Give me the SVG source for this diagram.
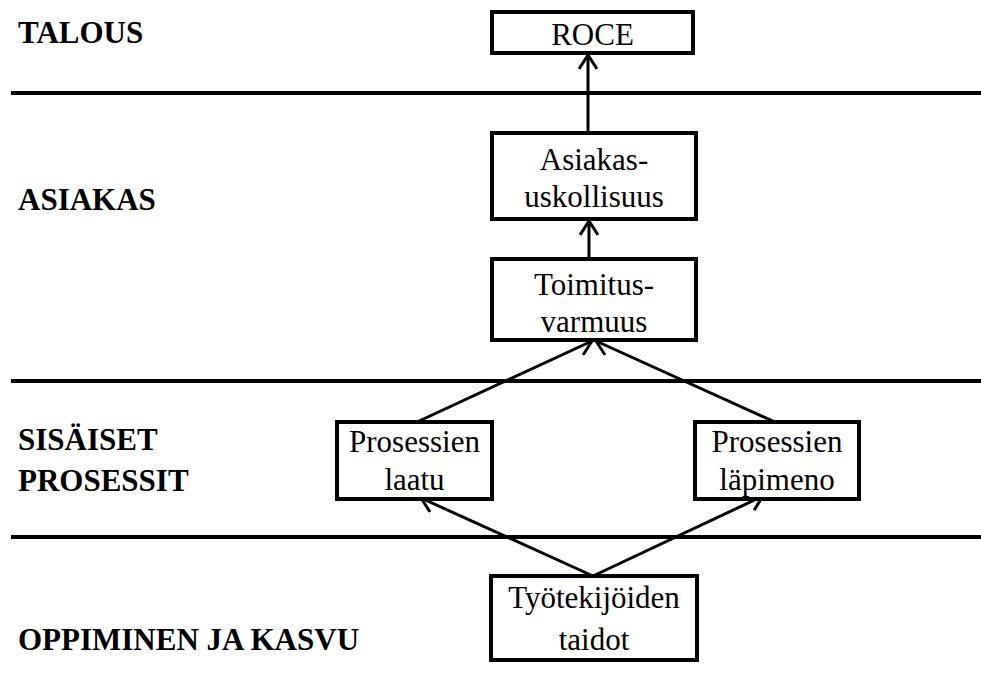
<svg xmlns="http://www.w3.org/2000/svg" width="981" height="698" viewBox="0 0 981 698">
  <style>
    .band { font-weight: bold; font-size: 31px; fill: #000; }
    .box rect { fill: #fff; stroke: #000; stroke-width: 4; }
    .box text { font-size: 31px; fill: #000; text-anchor: middle; }
    .divider { stroke: #000; stroke-width: 4; }
    .edge { stroke: #000; stroke-width: 3; fill: none; marker-end: url(#head); }
  </style>
  <defs>
    <marker id="head" viewBox="0 0 16 20" refX="15" refY="10" markerWidth="16" markerHeight="20" markerUnits="userSpaceOnUse" orient="auto">
      <path d="M1,1 L15,10 L1,19" fill="none" stroke="#000" stroke-width="3"/>
    </marker>
  </defs>

  <rect width="981" height="698" fill="#fff"/>

  <g font-family="'Liberation Serif', 'DejaVu Serif', 'Noto Serif', serif">
  <!-- perspective bands -->
  <g id="bands">
    <line class="divider" x1="11" y1="93" x2="981" y2="93"/>
    <line class="divider" x1="11" y1="381" x2="981" y2="381"/>
    <line class="divider" x1="11" y1="537" x2="981" y2="537"/>
    <text class="band" x="18" y="43">TALOUS</text>
    <text class="band" x="18" y="210">ASIAKAS</text>
    <text class="band" x="18" y="450">SISÄISET</text>
    <text class="band" x="18" y="491">PROSESSIT</text>
    <text class="band" x="18" y="650">OPPIMINEN JA KASVU</text>
  </g>

  <!-- cause-effect links -->
  <g id="connectors">
    <line class="edge" x1="588" y1="133" x2="588" y2="55"/>
    <line class="edge" x1="589" y1="259" x2="589" y2="221"/>
    <line class="edge" x1="417" y1="422" x2="592" y2="341"/>
    <line class="edge" x1="775" y1="422" x2="596" y2="341"/>
    <line class="edge" x1="593" y1="576" x2="421" y2="498"/>
    <line class="edge" x1="593" y1="576" x2="763" y2="496"/>
  </g>

  <g id="roce" class="box">
    <rect x="492" y="12" width="201" height="41"/>
    <text x="592.5" y="45">ROCE</text>
  </g>

  <g id="asiakasuskollisuus" class="box">
    <rect x="492" y="133" width="204" height="86"/>
    <text x="594" y="170">Asiakas-</text>
    <text x="594" y="207">uskollisuus</text>
  </g>

  <g id="toimitusvarmuus" class="box">
    <rect x="492" y="259" width="204" height="81"/>
    <text x="594" y="295">Toimitus-</text>
    <text x="594" y="332">varmuus</text>
  </g>

  <g id="prosessien-laatu" class="box">
    <rect x="337" y="422" width="155" height="77"/>
    <text x="414.5" y="452">Prosessien</text>
    <text x="414.5" y="490">laatu</text>
  </g>

  <g id="prosessien-lapimeno" class="box">
    <rect x="695" y="422" width="164" height="77"/>
    <text x="777" y="452">Prosessien</text>
    <text x="777" y="490">läpimeno</text>
  </g>

  <g id="tyontekijoiden-taidot" class="box">
    <rect x="491" y="576" width="206" height="84"/>
    <text x="594" y="608">Työtekijöiden</text>
    <text x="594" y="650">taidot</text>
  </g>
  </g>
</svg>
